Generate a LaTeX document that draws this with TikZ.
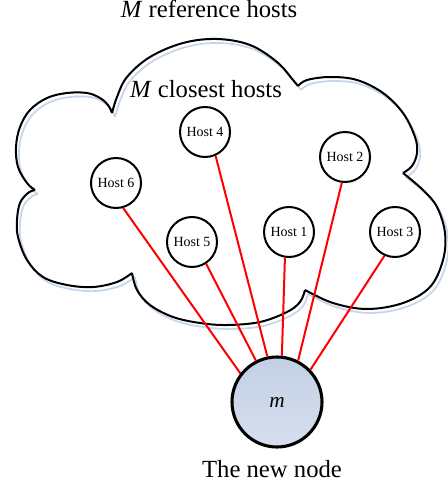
\documentclass[tikz,border=0pt]{standalone}
\usepackage{fontspec}
\setmainfont{Liberation Serif}
\definecolor{shadowblue}{HTML}{C6D5EA}
\definecolor{nodeblue}{HTML}{C2CFE5}
\definecolor{nodeblueL}{HTML}{D6DFEE}
\newcommand{\mycloudpath}{%
  plot[smooth,tension=0.6] coordinates {(112,113) (117,97) (127,77) (150,57) (183,43) (217,39) (250,45) (277,62) (293,80) (298,86)}
  plot[smooth,tension=0.6] coordinates {(298,86) (307,80) (330,77) (357,80) (383,93) (403,113) (415,137) (417,153) (412,166) (403,173)}
  plot[smooth,tension=0.6] coordinates {(403,173) (423,190) (437,207) (445,233) (443,260) (430,287) (403,303) (367,309) (333,303) (305,290)}
  plot[smooth,tension=0.6] coordinates {(305,290) (300,302) (287,312) (260,322) (227,325) (200,323) (173,317) (150,305) (137,290) (132,273)}
  plot[smooth,tension=0.6] coordinates {(132,273) (117,282) (93,287) (67,285) (43,277) (27,260) (18,237) (17,220) (20,203) (28,193) (35,190)}
  plot[smooth,tension=0.6] coordinates {(35,190) (27,183) (18,167) (16,147) (20,127) (30,110) (47,98) (67,93) (87,93) (100,98) (108,105) (112,113)}
}
\tikzset{
  host/.style={circle, draw=black, line width=1.5pt, fill=white, minimum size=37.5pt, inner sep=0pt, font=\fontsize{10.5}{12}\selectfont},
  newnode/.style={circle, draw=black, line width=2.3pt, top color=nodeblue, bottom color=nodeblueL, minimum size=67.5pt, inner sep=0pt, font=\fontsize{16}{18}\selectfont\itshape},
  link/.style={red, line width=1.5pt},
  bigtext/.style={font=\fontsize{18.5}{22}\selectfont, inner sep=0pt, anchor=base},
}
\begin{document}
\begin{tikzpicture}[x=0.75pt, y=-0.75pt]
\useasboundingbox (0,0) rectangle (448,485);
\draw[shadowblue, line width=1.3pt, shift={(3,4)}] \mycloudpath;
\draw[black, line width=1.5pt, line join=round] \mycloudpath;

\node[bigtext] (title) at (209,18) {\textit{M} reference hosts};
\node[bigtext] (closest) at (206,97) {\textit{M} closest hosts};

\node[host] (h4) at (205,132) {Host 4};
\node[host] (h2) at (345,157) {Host 2};
\node[host] (h6) at (116,183) {Host 6};
\node[host] (h5) at (192,242) {Host 5};
\node[host] (h1) at (289,232) {Host 1};
\node[host] (h3) at (395,232) {Host 3};

\node[newnode] (m) at (277,402) {m};
\node[bigtext] (label) at (272,477) {The new node};

\draw[link] (h6.-74) -- (m.142);
\draw[link] (h5.-57) -- (m.117);
\draw[link] (h4.-66) -- (m.102);
\draw[link] (h1.-99) -- (m.84);
\draw[link] (h2.-97) -- (m.63);
\draw[link] (h3.-114) -- (m.44);
\end{tikzpicture}
\end{document}
